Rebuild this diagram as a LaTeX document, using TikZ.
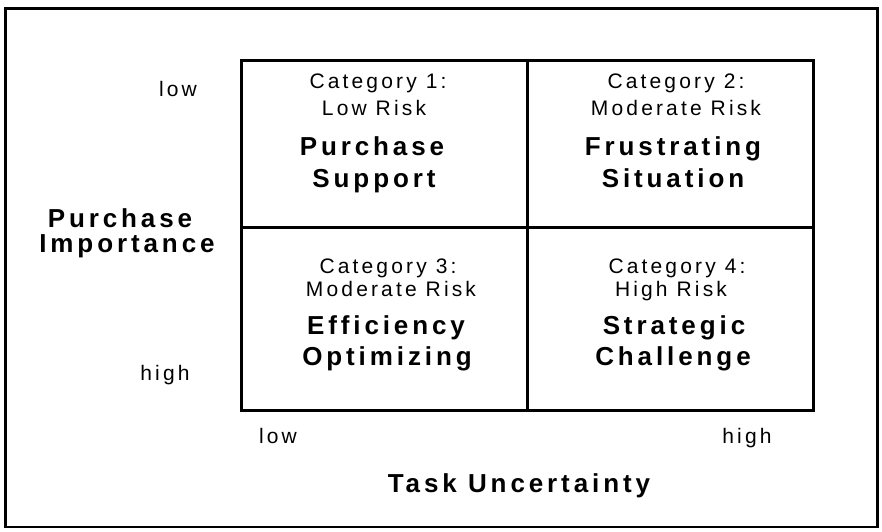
\documentclass[tikz,border=0pt]{standalone}
\usepackage{fontspec}
\setmainfont{Liberation Sans}[LetterSpace=15]
\begin{document}
\begin{tikzpicture}[x=1pt,y=-1pt,
  reg/.style={font=\fontsize{21}{25}\selectfont, anchor=base, inner sep=0pt},
  bld/.style={font=\fontsize{26}{31}\selectfont\bfseries, anchor=base, inner sep=0pt},
  frame/.style={draw=black, line width=2.5pt},
  gridline/.style={draw=black, line width=3pt}]
\useasboundingbox (0,0) rectangle (882,531);
\draw[frame] (5.5,8.5) rectangle (877.5,527);
\coordinate (gtl) at (241,60);
\coordinate (gbr) at (813,410);
\coordinate (mt) at (527,60);
\coordinate (mb) at (527,410);
\coordinate (ml) at (241,227);
\coordinate (mr) at (813,227);
\draw[gridline] (gtl) rectangle (gbr);
\draw[gridline] (mt) -- (mb);
\draw[gridline] (ml) -- (mr);
% axis labels
\node[reg] (ylow) at (178,96) {low};
\node[reg] (yhigh) at (165,380) {high};
\node[bld] (pi1) at (120,227) {Purchase};
\node[bld] (pi2) at (127,252) {Importance};
\node[reg] (xlow) at (278,443) {low};
\node[reg] (xhigh) at (747,443) {high};
\node[bld] (tu) at (519,492) {Task Uncertainty};
% cell 1
\node[reg] (c1a) at (378,88) {Category 1:};
\node[reg] (c1b) at (374,115) {Low Risk};
\node[bld] (c1c) at (372,155) {Purchase};
\node[bld] (c1d) at (374,187) {Support};
% cell 2
\node[reg] (c2a) at (676,88) {Category 2:};
\node[reg] (c2b) at (676,115) {Moderate Risk};
\node[bld] (c2c) at (673,155) {Frustrating};
\node[bld] (c2d) at (673,187) {Situation};
% cell 3
\node[reg] (c3a) at (388,273) {Category 3:};
\node[reg] (c3b) at (391,296) {Moderate Risk};
\node[bld] (c3c) at (386,334) {Efficiency};
\node[bld] (c3d) at (387,365) {Optimizing};
% cell 4
\node[reg] (c4a) at (677,273) {Category 4:};
\node[reg] (c4b) at (671,296) {High Risk};
\node[bld] (c4c) at (674,334) {Strategic};
\node[bld] (c4d) at (673,365) {Challenge};
\end{tikzpicture}
\end{document}
